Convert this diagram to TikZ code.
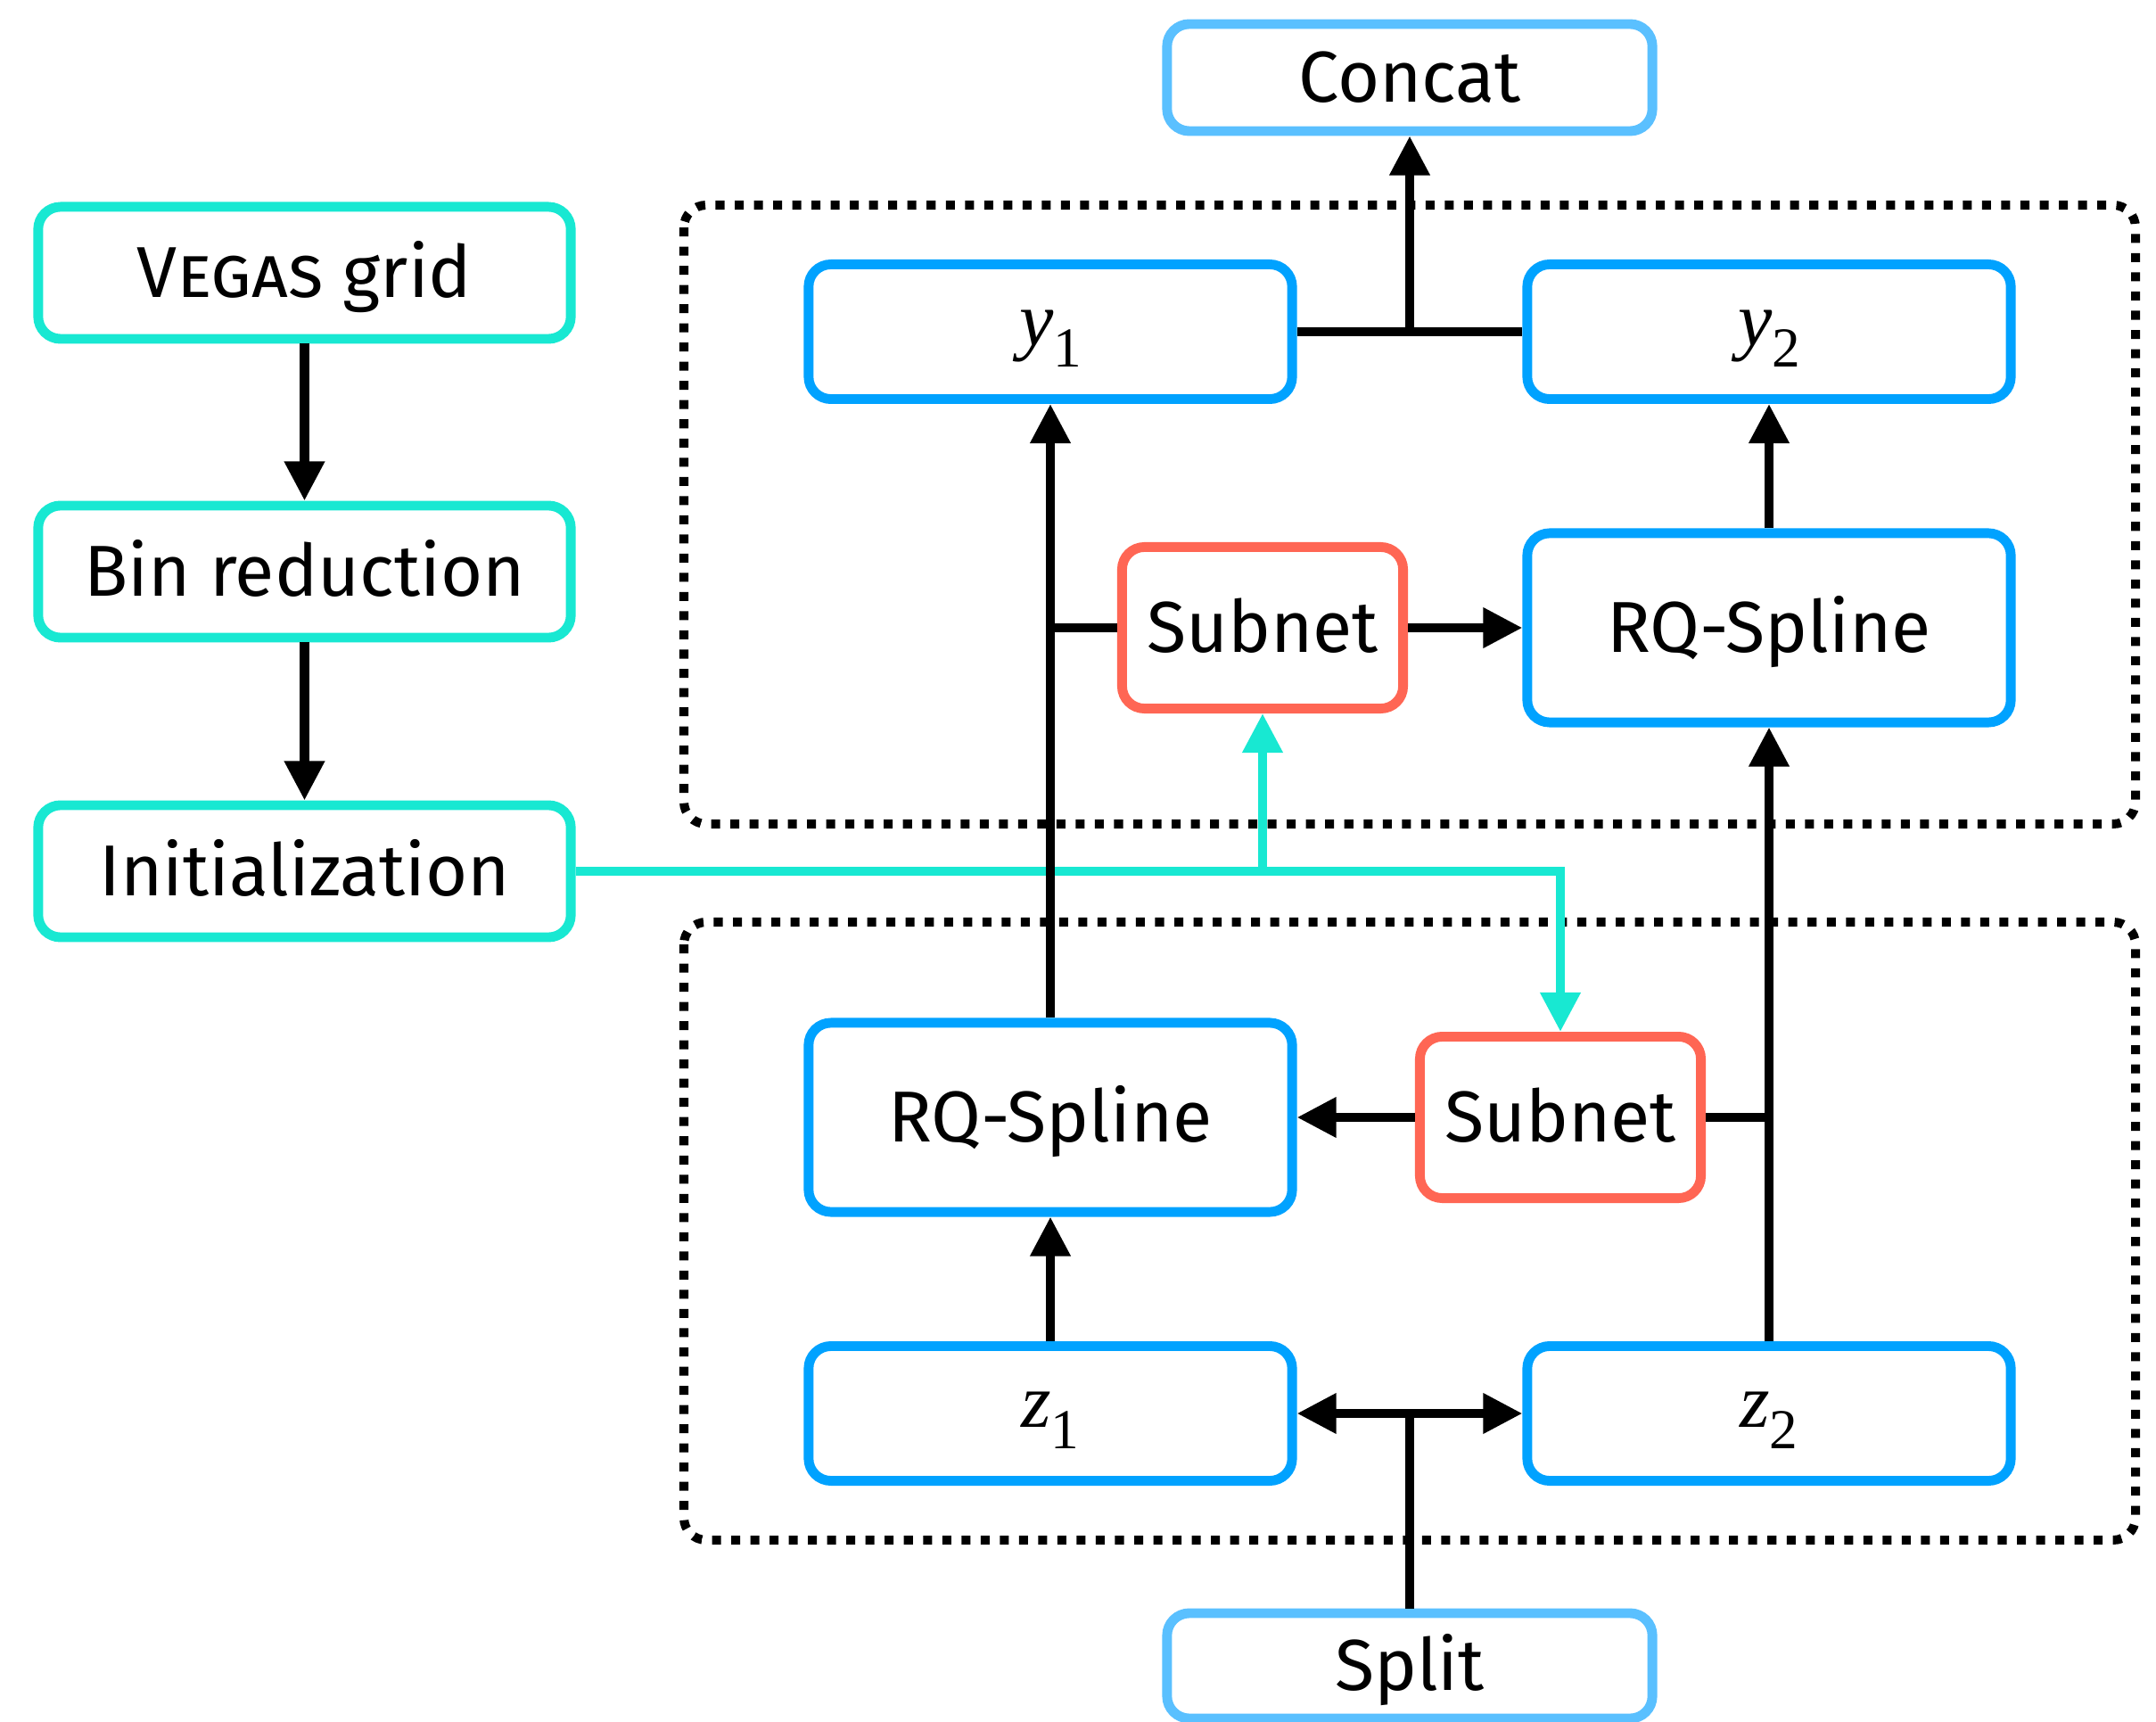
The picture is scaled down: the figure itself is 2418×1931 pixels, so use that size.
\documentclass[tikz,border=0pt]{standalone}
\usepackage{fontspec}
\setmainfont{Fira Sans}
\newfontfamily\serifmath{Liberation Serif}
\usetikzlibrary{arrows.meta}
\definecolor{cyanc}{RGB}{24,232,210}
\definecolor{bluec}{RGB}{0,162,255}
\definecolor{lbluec}{RGB}{90,192,255}
\definecolor{redc}{RGB}{255,102,84}
\newcommand\mvar[2]{{\fontsize{24.5}{28}\selectfont\serifmath\itshape #1}\raisebox{-6.7pt}{\fontsize{18}{20}\selectfont\serifmath #2}}
\begin{document}
\begin{tikzpicture}[x=0.01cm,y=-0.01cm,
  box/.style={draw, rectangle, rounded corners=0.25cm, line width=3.1pt, inner sep=0pt, anchor=center,
    font=\fontsize{23}{28}\selectfont, text height=15.9pt, text depth=0pt, fill=white},
  leftbox/.style={box, draw=cyanc, minimum width=5.97cm, minimum height=1.48cm},
  iobox/.style={box, draw=lbluec, minimum width=5.44cm, minimum height=1.2cm},
  varbox/.style={box, draw=bluec, minimum width=5.42cm, minimum height=1.51cm, text height=9pt},
  splinebox/.style={box, draw=bluec, minimum width=5.42cm, minimum height=2.12cm},
  netbox/.style={box, draw=redc, minimum width=3.15cm, minimum height=1.81cm},
  conn/.style={line width=2.85pt, draw=black},
  arr/.style={conn, -{Triangle[length=0.44cm,width=0.43cm]}},
  darr/.style={conn, {Triangle[length=0.44cm,width=0.43cm]}-{Triangle[length=0.44cm,width=0.43cm]}},
  carr/.style={line width=2.85pt, draw=cyanc, -{Triangle[length=0.44cm,width=0.43cm]}},
  group/.style={line width=2.85pt, dash pattern=on 2.85pt off 3.27pt, rounded corners=0.25cm},
]
\fill[white] (0,0) rectangle (2418,1931);
\useasboundingbox (0,0) rectangle (2418,1931);

\draw[group] (767,230) rectangle (2395,924);
\draw[group] (767,1034) rectangle (2395,1727);

\node[leftbox] (vegas) at (341.5,306) {\textsc{Vegas} grid};
\node[leftbox] (bin) at (341.5,641) {Bin reduction};
\node[leftbox] (init) at (341.5,977) {Initialization};
\node[iobox] (concat) at (1581,87) {Concat};
\node[iobox, minimum height=1.18cm] (split) at (1581,1868) {Split};
\node[varbox] (y1) at (1178,372) {\mvar{y}{1}};
\node[varbox] (y2) at (1984,372) {\mvar{y}{2}};
\node[netbox] (snu) at (1416,704) {Subnet};
\node[splinebox] (rqu) at (1984,704) {RQ-Spline};
\node[splinebox] (rql) at (1178,1253) {RQ-Spline};
\node[netbox] (snl) at (1750,1253) {Subnet};
\node[varbox] (z1) at (1178,1585) {\mvar{z}{1}};
\node[varbox] (z2) at (1984,1585) {\mvar{z}{2}};

\draw[arr] (vegas) -- (bin);
\draw[arr] (bin) -- (init);

\coordinate (cbr) at (snu.south |- init.east);
\draw[carr] (init.east) -| (snl.north);
\draw[carr] (cbr) -- (snu.south);

\draw[arr] (rql) -- (y1);
\coordinate (jl) at (rql.north |- snu.west);
\draw[conn] (jl) -- (snu.west);
\draw[arr] (snu) -- (rqu);
\draw[arr] (rqu) -- (y2);
\draw[arr] (z2) -- (rqu);
\coordinate (jr) at (z2.north |- snl.east);
\draw[conn] (snl.east) -- (jr);
\draw[arr] (snl) -- (rql);
\draw[arr] (z1) -- (rql);

\coordinate (js) at (split.north |- z1.east);
\draw[conn] (split.north) -- (js);
\draw[darr] (z1.east) -- (z2.west);

\coordinate (jc) at (concat.south |- y1.east);
\draw[conn] (y1.east) -- (y2.west);
\draw[arr] (jc) -- (concat.south);
\end{tikzpicture}
\end{document}
